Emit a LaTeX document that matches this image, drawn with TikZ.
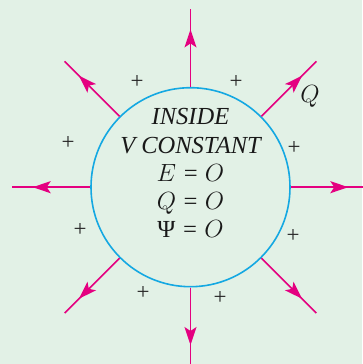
\documentclass[tikz,border=0pt]{standalone}
\usepackage{fontspec}
\setmainfont{Liberation Serif}
\usetikzlibrary{arrows.meta, decorations.markings}

\definecolor{bgcol}{RGB}{226,241,230}
\definecolor{shellcol}{RGB}{20,168,226}
\definecolor{fluxcol}{RGB}{228,0,128}

\begin{document}
\begin{tikzpicture}[x=1pt, y=1pt]
        \tikzstyle{shell} = [circle, draw=shellcol, line width=1.6pt, minimum size=199pt, inner sep=0pt]
        \tikzstyle{fluxline} = [color=fluxcol, line width=1.5pt, postaction={decorate},
            decoration={markings, mark=at position 0.74 with {\arrow[fluxcol]{Stealth[length=18pt, width=12pt, inset=4pt]}}}]
        \tikzstyle{charge} = [inner sep=0pt, font=\fontsize{23}{23}\selectfont, text=black!85]
        \tikzstyle{label} = [inner sep=0pt, font=\fontsize{24.5}{28.3}\selectfont\itshape, text=black!90]

        \fill[bgcol] (-190.5,187.2) rectangle (171.5,-176.8);
        \useasboundingbox (-190.5,187.2) rectangle (171.5,-176.8);

        \node (sphere) [shell] at (0,0) {};
        \node (inside) [label, align=center] at (0,14) {INSIDE\\V CONSTANT\\$E$ = $O$\\$Q$ = $O$\\\textup{Ψ} = $O$};

        % field lines
        \foreach \a in {0,45,...,315} {
            \coordinate (end\a) at (\a:178);
            \draw [fluxline] (sphere.\a) -- (end\a);
        }

        \node (qlabel) [label] at (119.5,90.5) {$Q$};

        % surface charges
        \node (p1) [charge] at (-53.5,105.5) {+};
        \node (p2) [charge] at (45.5,105.5) {+};
        \node (p3) [charge] at (-122.5,44.5) {+};
        \node (p4) [charge] at (103.5,39.5) {+};
        \node (p5) [charge] at (-110.5,-42.5) {+};
        \node (p6) [charge] at (102.5,-48.5) {+};
        \node (p7) [charge] at (-47.5,-105.5) {+};
        \node (p8) [charge] at (29.5,-110.5) {+};
    \end{tikzpicture}
\end{document}
